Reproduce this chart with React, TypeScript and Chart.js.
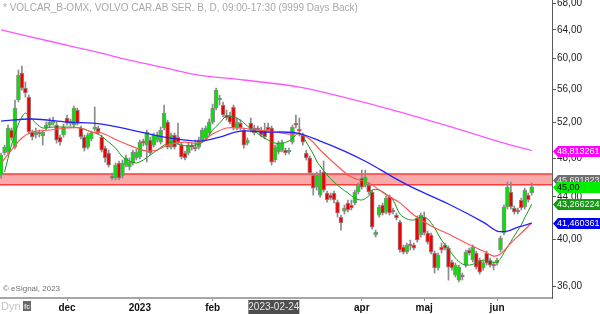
import React, { useEffect, useRef } from 'react';
import { Chart, registerables } from 'chart.js';

Chart.register(...registerables);

// bar index 0 = first trading day of December 2022
const FIRST_INDEX = -19;

const opens = [
  46.20, 48.55, 48.66, 51.12, 49.20, 54.68, 58.10, 56.17, 55.05, 50.89,
  50.55, 50.78, 50.44, 51.35, 51.69, 51.92, 51.69, 50.32, 50.55, 52.52,
  52.04, 51.69, 53.47, 51.35, 50.32, 49.20, 50.10, 51.23, 51.35, 50.32,
  49.09, 48.55, 46.00, 45.89, 47.47, 46.10, 47.25, 47.04, 47.47, 48.01,
  48.12, 49.75, 49.42, 49.98, 49.42, 49.98, 49.75, 51.35, 52.04, 49.20,
  50.55, 50.32, 49.42, 48.55, 48.55, 49.42, 49.20, 49.20, 49.98, 50.21,
  50.78, 52.04, 53.71, 54.68, 54.07, 52.87, 52.75, 53.83, 51.35, 51.92,
  51.12, 49.64, 51.92, 51.35, 51.23, 51.12, 51.12, 51.46, 51.35, 47.79,
  48.66, 48.87, 48.87, 48.66, 49.75, 51.92, 51.12, 50.55, 48.55, 48.01,
  46.20, 44.97, 44.17, 46.51, 44.37, 44.17, 44.37, 43.48, 42.04, 42.61,
  43.39, 43.19, 43.39, 44.47, 45.89, 45.17, 45.17, 44.47, 40.38, 42.23,
  43.19, 42.52, 43.97, 42.71, 42.23, 41.57, 39.30, 38.86, 39.48, 39.48,
  41.95, 40.38, 42.04, 40.56, 40.38, 38.77, 37.49, 39.30, 39.48, 39.21,
  38.00, 36.90, 36.49, 36.90, 37.74, 39.04, 38.17, 38.77, 38.17, 37.49,
  38.77, 38.17, 37.74, 37.91, 39.04, 40.56, 43.00, 44.47, 42.90, 42.71,
  43.68, 43.00, 44.17, 44.37,
];
const highs = [
  48.55, 49.42, 51.69, 51.35, 54.68, 58.50, 59.03, 56.94, 55.30, 51.12,
  51.35, 51.12, 51.12, 52.04, 52.52, 52.63, 52.04, 50.55, 51.81, 52.87,
  52.40, 53.95, 53.71, 51.58, 50.55, 50.78, 51.00, 53.83, 51.58, 50.55,
  49.31, 48.87, 46.41, 47.47, 47.68, 47.79, 48.33, 48.01, 48.87, 48.98,
  49.98, 50.10, 51.12, 50.32, 50.78, 50.89, 51.46, 54.07, 52.28, 50.78,
  50.78, 51.92, 49.64, 48.76, 49.64, 49.64, 49.98, 50.32, 51.35, 51.58,
  52.40, 54.19, 56.17, 55.30, 54.44, 53.47, 53.23, 54.07, 52.52, 52.28,
  51.35, 50.21, 52.52, 51.69, 51.58, 51.46, 51.92, 51.92, 51.58, 49.42,
  49.87, 49.98, 49.09, 49.09, 51.69, 52.87, 52.52, 50.78, 48.87, 48.23,
  46.41, 46.51, 46.72, 47.68, 44.57, 44.37, 44.57, 43.68, 42.23, 43.19,
  43.68, 43.68, 44.67, 45.38, 46.72, 46.72, 45.38, 44.67, 40.83, 43.19,
  43.39, 44.07, 44.17, 42.90, 42.42, 41.76, 39.48, 39.66, 39.92, 39.66,
  42.14, 42.42, 42.52, 40.74, 40.56, 38.95, 38.77, 39.66, 39.66, 39.39,
  38.17, 37.91, 37.74, 37.07, 39.04, 39.21, 39.48, 38.95, 38.34, 38.08,
  38.95, 38.34, 38.00, 38.34, 40.28, 43.19, 45.48, 45.48, 43.10, 42.90,
  43.87, 44.87, 44.37, 45.38,
];
const lows = [
  45.89, 48.33, 48.44, 49.98, 48.98, 54.44, 55.92, 55.05, 50.66, 49.98,
  50.21, 50.32, 49.42, 51.12, 51.46, 51.69, 49.64, 49.42, 50.32, 51.69,
  51.58, 51.46, 51.69, 50.10, 48.76, 48.98, 49.87, 51.00, 50.66, 48.66,
  47.57, 47.04, 45.69, 45.69, 45.69, 45.89, 47.04, 46.72, 47.25, 47.79,
  47.90, 49.31, 47.57, 48.33, 49.20, 49.75, 49.53, 51.12, 48.98, 48.98,
  48.98, 49.53, 47.90, 47.79, 48.33, 48.87, 48.76, 48.98, 49.75, 49.98,
  50.55, 51.81, 53.47, 54.07, 52.63, 52.28, 51.81, 51.12, 51.12, 51.12,
  49.09, 49.42, 50.89, 50.55, 50.89, 50.32, 50.10, 50.89, 47.25, 47.57,
  48.44, 48.66, 48.33, 48.44, 49.53, 51.35, 50.44, 49.42, 47.79, 46.20,
  44.17, 44.67, 43.97, 44.47, 43.48, 43.68, 43.39, 42.04, 40.83, 42.33,
  42.52, 42.71, 43.19, 44.27, 44.77, 44.97, 44.27, 40.92, 40.19, 42.04,
  42.23, 42.33, 42.23, 42.33, 41.76, 38.86, 38.69, 38.69, 39.04, 39.04,
  39.74, 40.19, 40.38, 39.57, 38.69, 37.07, 37.32, 38.77, 39.04, 36.49,
  37.32, 36.74, 36.33, 36.49, 37.57, 38.60, 38.00, 37.40, 36.99, 37.32,
  37.74, 37.57, 37.32, 37.74, 38.86, 40.38, 42.80, 42.80, 42.33, 42.33,
  42.71, 42.80, 43.48, 44.17,
];
const closes = [
  48.33, 49.20, 51.35, 50.21, 53.71, 57.84, 56.17, 55.55, 50.89, 50.32,
  50.89, 50.66, 50.89, 51.69, 52.04, 52.28, 49.98, 49.75, 51.46, 51.92,
  51.92, 53.71, 51.92, 50.32, 49.09, 50.55, 50.78, 51.35, 50.89, 48.87,
  48.01, 47.25, 45.89, 47.25, 45.89, 47.47, 48.01, 47.57, 48.66, 48.66,
  49.75, 49.64, 50.89, 48.55, 50.55, 50.55, 51.12, 53.11, 49.20, 50.55,
  49.20, 49.75, 48.12, 48.01, 49.42, 49.20, 48.98, 49.98, 51.12, 51.35,
  52.04, 53.71, 55.92, 54.92, 52.87, 52.52, 52.04, 51.35, 52.04, 51.35,
  49.42, 49.98, 51.12, 50.78, 51.12, 50.55, 50.32, 51.12, 47.57, 49.20,
  49.64, 49.64, 48.55, 48.87, 51.46, 51.69, 51.00, 49.75, 48.01, 46.41,
  44.87, 46.20, 46.20, 44.67, 43.68, 43.87, 43.68, 42.42, 41.48, 42.90,
  42.71, 42.90, 44.47, 45.17, 44.97, 45.99, 44.47, 41.10, 40.65, 43.00,
  42.42, 43.87, 42.42, 42.52, 41.95, 39.04, 38.86, 39.48, 39.39, 39.21,
  39.92, 42.23, 40.56, 39.74, 38.86, 37.49, 38.60, 39.04, 39.21, 37.57,
  37.49, 37.74, 37.57, 36.74, 38.86, 38.77, 39.30, 37.57, 37.15, 37.91,
  37.91, 37.74, 37.66, 38.17, 40.10, 43.00, 44.97, 43.00, 42.52, 42.52,
  42.90, 44.67, 43.68, 45.00,
];

// moving averages (bar index, value)
const ma10Index = [
  -18, -16, -14, -13, -12, -11, -9, -7, -4, 0, 4, 7, 9, 12, 14, 16, 18, 20, 22, 24,
  26, 28, 30, 32, 35, 38, 40, 42, 44, 46, 48, 50, 52, 54, 56, 58, 60, 62, 64, 66,
  67, 68, 69, 70, 71, 72, 73, 75, 77, 79, 81, 83, 85, 87, 88, 90, 92, 94, 96, 98,
  100, 102, 104, 106, 108, 110, 112, 114, 116, 118, 120, 122, 124, 125, 126, 127, 128, 129, 130, 131,
  132, 133, 134,
];
const ma10 = [
  46.51, 49.42, 51.81, 52.63, 53.11, 52.75, 51.92, 51.35, 51.46, 51.46, 51.35, 50.89, 50.66, 49.75, 49.09, 48.12, 47.68, 47.47, 47.79, 48.33,
  48.87, 49.42, 49.75, 49.53, 49.31, 49.53, 49.98, 51.12, 51.92, 52.75, 52.63, 52.28, 51.58, 51.00, 50.44, 49.98, 49.64, 49.64, 49.87, 50.55,
  50.78, 50.44, 49.75, 49.09, 48.44, 47.68, 47.15, 46.20, 45.48, 44.87, 44.37, 43.87, 43.68, 44.07, 44.67, 44.67, 44.27, 43.68, 42.33, 41.86,
  41.76, 42.04, 41.86, 41.01, 39.92, 39.13, 38.34, 37.83, 37.74, 37.91, 38.17, 38.00, 38.00, 38.30, 38.80, 39.30, 39.80, 40.30, 40.80, 41.30,
  42.00, 42.60, 43.27,
];
const ma20Index = [
  -19, -16, -13, -10, -5, 0, 4, 7, 10, 15, 20, 23, 26, 29, 34, 38, 42, 46, 50, 55,
  60, 64, 67, 70, 73, 77, 82, 87, 92, 96, 100, 105, 110, 115, 120, 123, 125, 128, 131, 134,
];
const ma20 = [
  47.47, 48.87, 50.21, 50.89, 51.12, 51.35, 51.35, 50.89, 50.78, 49.87, 49.09, 48.76, 48.87, 49.42, 49.75, 49.64, 50.66, 51.35, 51.35, 51.12,
  50.89, 50.66, 50.66, 50.10, 48.87, 47.47, 45.99, 45.38, 44.20, 43.40, 42.23, 41.20, 40.47, 39.66, 38.95, 38.51, 38.69, 39.66, 40.56, 41.48,
];
const ma50Index = [-19, -10, 0, 10, 20, 28, 38, 44, 50, 57, 66, 73, 80, 87, 94, 100, 110, 120, 124, 127, 130, 134];
const ma50 = [
  52.16, 52.40, 52.04, 51.81, 51.00, 50.32, 49.87, 50.32, 51.00, 50.89, 50.78, 49.87, 48.76, 47.47, 45.99, 44.87, 43.29, 41.57, 40.74, 40.74,
  41.10, 41.46,
];
const ma200Index = [-19, -5, 9, 18, 28, 38, 51, 67, 80, 95, 110, 124, 134];
const ma200 = [64.0, 62.4, 60.85, 59.8, 58.8, 57.84, 57.2, 56.3, 55.0, 53.35, 51.57, 49.87, 48.81];

const monthTickIndex = [0, 21, 42, 85, 103, 124];
const monthTickLabels = ['dec', '2023', 'feb', 'apr', 'maj', 'jun'];
const priceTicks = [36, 40, 44, 48, 52, 56, 60, 64, 68];

const zoneHigh = 46.3;
const zoneLow = 45.2;

const tagValues = [48.813261, 45.691823, 45.0, 43.266224, 41.460361];
const tagTexts = ['48,813261', '45,691823', '45,00', '43,266224', '41,460361'];
const tagBg = ['#ff00ff', '#6e6e6e', '#00ee00', '#119911', '#0000ee'];
const tagFg = ['#ffffff', '#e8e8e8', '#000000', '#ffffff', '#ffffff'];

const titleText = '* VOLCAR_B-OMX, VOLVO CAR.AB SER. B, D, 09:00-17:30 (9999 Days Back)';
const crosshairDate = '2023-02-24';
const crosshairIndex = 59.5;

const FONT = '"Liberation Sans", Arial, sans-serif';

const pairs = (xs: number[], ys: number[]) => xs.map((x, k) => ({ x, y: ys[k] }));

const overlayPlugin = {
  id: 'overlay',
  beforeDatasetsDraw(chart: any) {
    const { ctx, chartArea, scales } = chart;
    const y = scales.y;
    const t = y.getPixelForValue(zoneHigh);
    const b = y.getPixelForValue(zoneLow);
    ctx.save();
    ctx.fillStyle = 'rgba(247,160,160,0.9)';
    ctx.fillRect(chartArea.left, t, chartArea.right - chartArea.left, b - t);
    ctx.strokeStyle = '#ff3a3a';
    ctx.lineWidth = 1.5;
    ctx.beginPath();
    ctx.moveTo(chartArea.left, t);
    ctx.lineTo(chartArea.right, t);
    ctx.moveTo(chartArea.left, b);
    ctx.lineTo(chartArea.right, b);
    ctx.stroke();
    ctx.restore();
  },
  afterDraw(chart: any) {
    const { ctx, chartArea, scales } = chart;
    const y = scales.y;
    const x = scales.x;
    ctx.save();
    ctx.font = `9px ${FONT}`;
    ctx.textBaseline = 'middle';
    ctx.textAlign = 'left';
    tagValues.forEach((v, k) => {
      const py = Math.round(y.getPixelForValue(v)) + 0.5;
      const tip = chartArea.right + 1;
      ctx.fillStyle = tagBg[k];
      ctx.beginPath();
      ctx.moveTo(tip, py);
      ctx.lineTo(tip + 5, py - 5.5);
      ctx.lineTo(600, py - 5.5);
      ctx.lineTo(600, py + 5.5);
      ctx.lineTo(tip + 5, py + 5.5);
      ctx.closePath();
      ctx.fill();
      ctx.fillStyle = tagFg[k];
      ctx.fillText(tagTexts[k], chartArea.right + 5, py + 0.5);
    });
    ctx.fillStyle = '#a8a8a8';
    ctx.font = `10px ${FONT}`;
    ctx.fillText(titleText, 3, 8);
    ctx.fillStyle = '#707070';
    ctx.font = `8px ${FONT}`;
    ctx.fillText('\u00a9 eSignal, 2023', 3, 289);
    ctx.fillStyle = '#c4c4c4';
    ctx.font = `11px ${FONT}`;
    ctx.fillText('Dyn', 1, 307);
    ctx.fillStyle = '#6a6a6a';
    ctx.fillRect(23, 301, 8, 10);
    ctx.fillStyle = '#dddddd';
    ctx.font = `bold 7px ${FONT}`;
    ctx.fillText('fc', 24, 307);
    const cx = x.getPixelForValue(crosshairIndex);
    ctx.fillStyle = '#4e4e4e';
    ctx.fillRect(cx - 25, 300, 51, 14);
    ctx.fillStyle = '#e6e6e6';
    ctx.font = `10px ${FONT}`;
    ctx.textAlign = 'center';
    ctx.fillText(crosshairDate, cx + 0.5, 307.5);
    ctx.restore();
  },
};

export default function App() {
  const ref = useRef<HTMLCanvasElement>(null);

  useEffect(() => {
    const canvas = ref.current;
    if (!canvas) return;
    const bodies = opens.map((o, k) => ({ x: FIRST_INDEX + k, y: [o, closes[k]] }));
    const wicks = lows.map((l, k) => ({ x: FIRST_INDEX + k, y: [l, highs[k]] }));
    const bodyColors = opens.map((o, k) => (closes[k] >= o ? '#00e400' : '#f00000'));

    const chart = new Chart(canvas, {
      type: 'bar',
      data: {
        datasets: [
          { type: 'line', data: pairs(ma200Index, ma200), borderColor: '#ff55ff', borderWidth: 1.3, pointRadius: 0, tension: 0.35, order: 0 } as any,
          { type: 'line', data: pairs(ma50Index, ma50), borderColor: '#2222ff', borderWidth: 1.3, pointRadius: 0, tension: 0.35, order: 0 } as any,
          { type: 'line', data: pairs(ma20Index, ma20), borderColor: '#ff5555', borderWidth: 1.2, pointRadius: 0, tension: 0.35, order: 0 } as any,
          { type: 'line', data: pairs(ma10Index, ma10), borderColor: '#159a15', borderWidth: 1, pointRadius: 0, tension: 0.3, order: 0 } as any,
          {
            type: 'bar',
            data: bodies as any,
            backgroundColor: bodyColors,
            borderColor: '#8c8c8c',
            borderWidth: 1,
            borderSkipped: false,
            barThickness: 4,
            minBarLength: 2,
            grouped: false,
            order: 1,
          } as any,
          {
            type: 'bar',
            data: wicks as any,
            backgroundColor: '#8a8a8a',
            borderWidth: 0,
            barThickness: 1,
            grouped: false,
            order: 2,
          } as any,
        ],
      },
      options: {
        animation: false,
        responsive: false,
        maintainAspectRatio: false,
        layout: { padding: 0 },
        plugins: { legend: { display: false }, tooltip: { enabled: false } },
        events: [],
        scales: {
          x: {
            type: 'linear',
            position: 'bottom',
            bounds: 'data',
            offset: false,
            min: -19.32,
            max: 139.85,
            afterBuildTicks: (scale: any) => {
              scale.ticks = monthTickIndex.map((v) => ({ value: v }));
            },
            afterFit: (scale: any) => {
              scale.height = 16;
              scale.paddingLeft = 0;
              scale.paddingRight = 0;
              scale.paddingTop = 0;
              scale.paddingBottom = 0;
            },
            ticks: {
              autoSkip: false,
              maxRotation: 0,
              padding: 1,
              color: '#111111',
              font: { family: FONT, size: 10, weight: 'bold' },
              callback: (value: any) => {
                const k = monthTickIndex.indexOf(Number(value));
                return k >= 0 ? monthTickLabels[k] : '';
              },
            },
            grid: { offset: false, drawOnChartArea: false, drawTicks: true, tickLength: 3, color: '#8a8a8a' },
            border: { display: true, color: '#a6a6a6', width: 2 },
          },
          y: {
            type: 'logarithmic',
            position: 'right',
            bounds: 'data',
            min: 35.05,
            max: 68.46,
            afterBuildTicks: (scale: any) => {
              scale.ticks = priceTicks.map((v) => ({ value: v }));
            },
            afterFit: (scale: any) => {
              scale.width = 48;
              scale.paddingTop = 0;
              scale.paddingBottom = 0;
              scale.paddingLeft = 0;
              scale.paddingRight = 0;
            },
            ticks: {
              autoSkip: false,
              padding: 1,
              color: '#222222',
              font: { family: FONT, size: 10 },
              callback: (value: any) => Number(value).toFixed(2).replace('.', ','),
            },
            grid: { drawOnChartArea: false, drawTicks: true, tickLength: 4, color: '#555555' },
            border: { display: true, color: '#5a5a5a', width: 1 },
          },
        },
      } as any,
      plugins: [overlayPlugin],
    });
    return () => chart.destroy();
  }, []);

  return (
    <div style={{ position: 'fixed', left: 0, top: 0, width: 600, height: 314, background: '#ffffff' }}>
      <canvas ref={ref} width={600} height={314} style={{ display: 'block', width: 600, height: 314 }} />
    </div>
  );
}
